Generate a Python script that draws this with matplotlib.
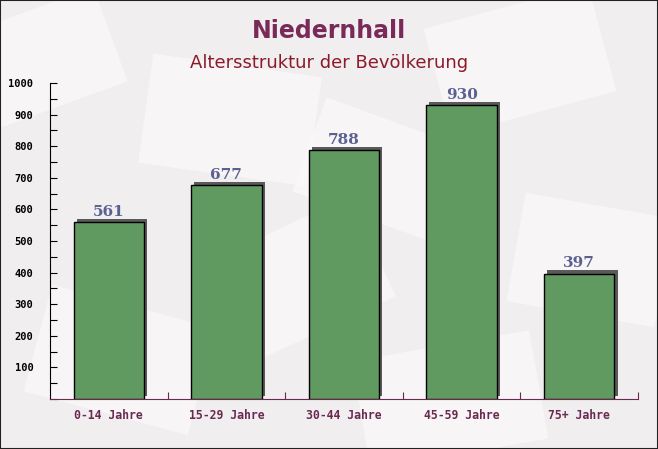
import matplotlib.pyplot as plt
import matplotlib.patheffects as pe
from matplotlib.patches import Rectangle
from matplotlib.transforms import Affine2D
from matplotlib.ticker import MultipleLocator, FixedLocator, NullFormatter

categories = ["0-14 Jahre", "15-29 Jahre", "30-44 Jahre", "45-59 Jahre", "75+ Jahre"]
values = [561, 677, 788, 930, 397]
title = "Niedernhall"
subtitle = "Altersstruktur der Bevölkerung"

fig = plt.figure(figsize=(6.58, 4.49), dpi=100)
fig.patch.set_facecolor("#f1eef0")

# faint envelope-like background shapes (decoration only)
for (cx, cy, w, h, ang) in [(40, 60, 150, 100, 20), (230, 120, 170, 110, -8), (520, 60, 170, 110, 15),
                            (590, 260, 150, 110, -10), (300, 280, 160, 110, 25), (120, 360, 170, 110, -15),
                            (450, 400, 180, 110, 10), (380, 170, 150, 100, -20)]:
    r = Rectangle((-w / 2, -h / 2), w, h, facecolor="#fbf9f9", edgecolor="none", alpha=0.7, zorder=-5)
    r.set_transform(Affine2D().rotate_deg(ang).translate(cx, 449 - cy))
    fig.add_artist(r)

ax = fig.add_axes([50 / 658, 1 - 399 / 449, 588 / 658, 316 / 449])
ax.set_facecolor("none")
ax.set_zorder(2)

x = list(range(len(categories)))
bars = ax.bar(x, values, width=0.6, color="#619a61", edgecolor="black", linewidth=1.0, zorder=3)
for b in bars:
    b.set_path_effects([
        pe.SimplePatchShadow(offset=(2.2, 2.2), shadow_rgbFace="#5a5a5a", alpha=1.0),
        pe.Normal(),
    ])

for xi, v in zip(x, values):
    ax.text(xi, v + 10, str(v), ha="center", va="bottom", family="DejaVu Serif",
            fontweight="bold", fontsize=11, color="#5a6090", zorder=4)

ax.set_xlim(-0.5, len(categories) - 0.5)
ax.set_ylim(0, 1000)

ax.yaxis.set_minor_locator(MultipleLocator(50))
ax.set_yticks(range(100, 1001, 100))
ax.tick_params(axis="y", which="both", direction="in", length=5, width=0.8, labelsize=7.5,
               pad=12, colors="black")
for lbl in ax.get_yticklabels():
    lbl.set_family("DejaVu Sans Mono")
    lbl.set_fontweight("bold")

ax.set_xticks(x)
ax.set_xticklabels(categories, family="DejaVu Sans Mono", fontweight="bold", fontsize=8.3, color="#6a2a50")
ax.tick_params(axis="x", which="major", length=0, pad=7)
ax.xaxis.set_minor_locator(FixedLocator([i + 0.5 for i in x]))
ax.xaxis.set_minor_formatter(NullFormatter())
ax.tick_params(axis="x", which="minor", direction="in", length=5, width=0.8, color="#6a2a50")

ax.spines["top"].set_visible(False)
ax.spines["right"].set_visible(False)
ax.spines["left"].set_color("black")
ax.spines["bottom"].set_color("#6a2a50")

fig.text(0.5, 1 - 31 / 449, title, ha="center", va="center", fontsize=17, fontweight="bold",
         color="#7a2a58", zorder=3)
fig.text(0.5, 1 - 63 / 449, subtitle, ha="center", va="center", fontsize=13, color="#8b1a2a", zorder=3)

fig.add_artist(Rectangle((0, 0), 1, 1, transform=fig.transFigure, fill=False,
                         edgecolor="#222222", linewidth=1.5, zorder=4))

fig.savefig("out.png", dpi=100, facecolor=fig.get_facecolor())
